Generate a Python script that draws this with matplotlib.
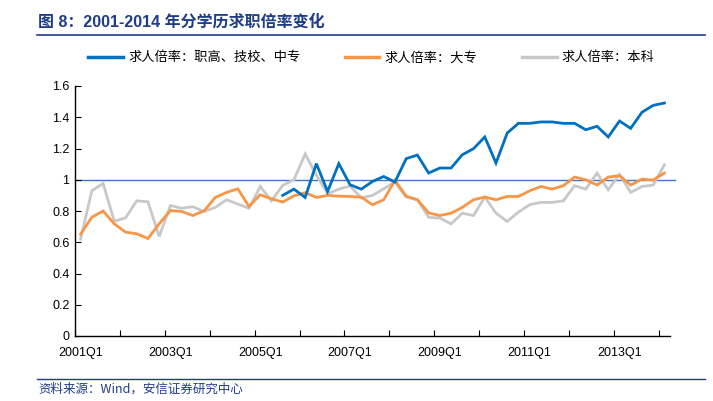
import numpy as np
import matplotlib
matplotlib.use("Agg")
import matplotlib.pyplot as plt
from matplotlib.lines import Line2D

plt.rcParams['font.family'] = ['Liberation Sans', 'Noto Sans CJK SC', 'DejaVu Sans']

quarters = [f"{y}Q{q}" for y in range(2001, 2015) for q in range(1, 5)][:53]
tick_labels = ["2001Q1", "2003Q1", "2005Q1", "2007Q1", "2009Q1", "2011Q1", "2013Q1"]

series_names = ["求人倍率：职高、技校、中专", "求人倍率：大专", "求人倍率：本科"]

vocational = [np.nan] * 18 + [
    0.90, 0.94, 0.887, 1.103, 0.925, 1.103, 0.968, 0.940, 0.989, 1.021,
    0.985, 1.135, 1.158, 1.043, 1.075, 1.075, 1.160, 1.199, 1.274, 1.107,
    1.299, 1.361, 1.361, 1.370, 1.370, 1.361, 1.361, 1.320, 1.342, 1.274,
    1.376, 1.329, 1.432, 1.476, 1.491]

college = [
    0.652, 0.760, 0.800, 0.718, 0.665, 0.654, 0.624, 0.718, 0.803, 0.797,
    0.771, 0.801, 0.887, 0.919, 0.942, 0.829, 0.904, 0.878, 0.857, 0.897,
    0.917, 0.887, 0.900, 0.895, 0.893, 0.889, 0.840, 0.872, 0.996, 0.895,
    0.872, 0.788, 0.771, 0.786, 0.823, 0.872, 0.889, 0.872, 0.893, 0.893,
    0.929, 0.957, 0.940, 0.962, 1.017, 1.000, 0.966, 1.017, 1.026, 0.966,
    1.004, 0.998, 1.043]

bachelor = [
    0.620, 0.930, 0.976, 0.735, 0.756, 0.865, 0.859, 0.637, 0.835, 0.818,
    0.827, 0.797, 0.823, 0.872, 0.844, 0.818, 0.957, 0.865, 0.964, 1.000,
    1.165, 1.030, 0.910, 0.940, 0.960, 0.883, 0.900, 0.942, 0.985, 0.889,
    0.872, 0.759, 0.755, 0.718, 0.786, 0.771, 0.889, 0.786, 0.733, 0.793,
    0.840, 0.855, 0.855, 0.865, 0.962, 0.940, 1.043, 0.936, 1.034, 0.919,
    0.957, 0.966, 1.096]

colors = ["#0070C0", "#F79646", "#C8C8C8"]
navy = "#1F3C88"

fig = plt.figure(figsize=(7.13, 4.01), dpi=100)
ax = fig.add_axes([75/713, 65/401, 595/713, 250/401])

x = np.arange(len(quarters))
# gray behind, orange, blue on top
ax.plot(x, bachelor, color=colors[2], lw=2.0, solid_joinstyle='miter')
ax.plot(x, college, color=colors[1], lw=2.0, solid_joinstyle='miter')
ax.plot(x, vocational, color=colors[0], lw=2.0, solid_joinstyle='miter')
ax.axhline(1.0, xmin=0, xmax=1.009, color="#4472C4", lw=1.0, clip_on=False, zorder=1)

ax.set_xlim(-0.5, len(quarters) - 0.5)
ax.set_ylim(0, 1.6)
ax.set_yticks([0, 0.2, 0.4, 0.6, 0.8, 1.0, 1.2, 1.4, 1.6])
ax.set_yticklabels(["0", "0.2", "0.4", "0.6", "0.8", "1", "1.2", "1.4", "1.6"], fontsize=9)

label_pos = [quarters.index(t) for t in tick_labels]
ax.set_xticks(label_pos)
ax.set_xticklabels(tick_labels, fontsize=9)
ax.tick_params(axis='x', length=0, pad=8)
ax.set_xticks(np.arange(-0.5, len(quarters) - 1, 4), minor=True)
ax.tick_params(axis='x', which='minor', direction='in', length=4, width=0.8)
ax.tick_params(axis='y', direction='in', length=4, width=0.8, pad=4)

for s in ["top", "right"]:
    ax.spines[s].set_visible(False)
for s in ["left", "bottom"]:
    ax.spines[s].set_linewidth(1.0)
    ax.spines[s].set_color("black")

handles = [Line2D([], [], color=c, lw=2.5) for c in colors]
fig.legend(handles, series_names, loc="center", bbox_to_anchor=(0.521, 0.856), ncol=3,
           frameon=False, handlelength=2.6, handletextpad=0.4,
           columnspacing=3.4, prop={'family': ['Noto Sans CJK SC'], 'size': 9.5})

fig.text(38/713, 1 - 22/401, "图 8：2001-2014 年分学历求职倍率变化", color=navy,
         fontsize=11.5, fontweight='bold', va='center', ha='left',
         family=['Liberation Sans', 'Noto Sans CJK SC'])
fig.add_artist(Line2D([37/713, 705/713], [1 - 35/401, 1 - 35/401], color=navy, lw=1.2))
fig.add_artist(Line2D([37/713, 705/713], [1 - 379/401, 1 - 379/401], color=navy, lw=1.0))
fig.text(38/713, 1 - 389/401, "资料来源：Wind，安信证券研究中心", color=navy,
         fontsize=9, style='italic', va='center', ha='left',
         family=['Noto Sans CJK SC', 'Liberation Sans'])

fig.savefig("out.png", dpi=100)
